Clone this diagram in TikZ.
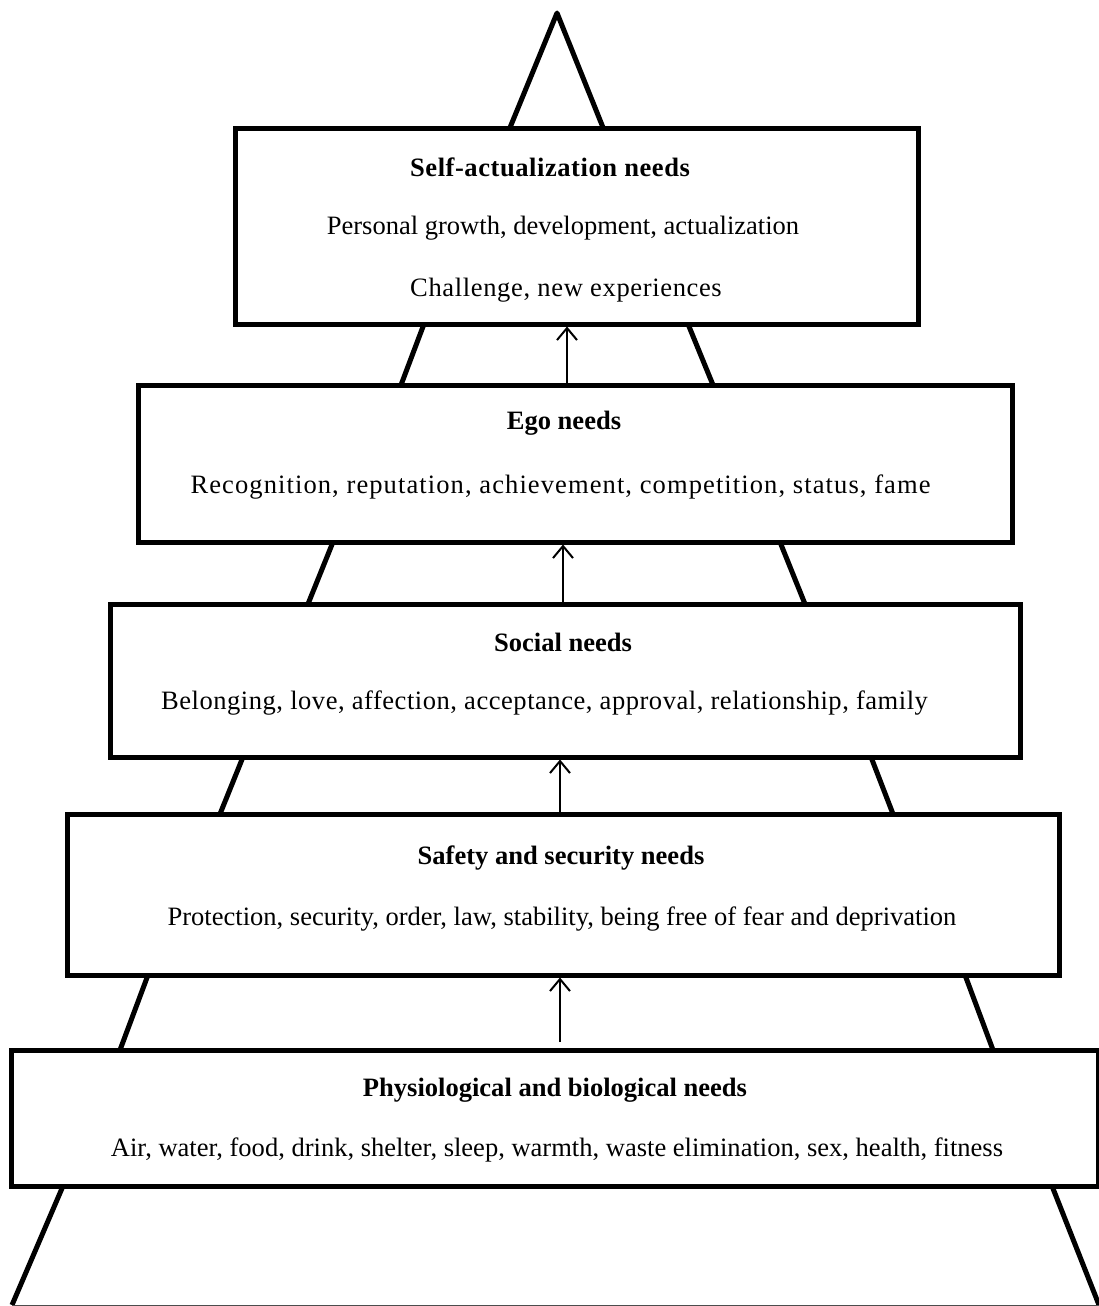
\documentclass[tikz,border=0pt]{standalone}
\usepackage{fontspec}
\setmainfont{Liberation Serif}
\usetikzlibrary{arrows.meta}
\newcommand{\spaced}[2]{{\addfontfeature{LetterSpace=#1}#2}}
\begin{document}
\begin{tikzpicture}[x=0.75pt,y=-0.75pt,
  level/.style={draw=black,line width=3.75pt,fill=white,rectangle,inner sep=0pt},
  edge/.style={line width=3.75pt,line join=round},
  title/.style={font=\fontsize{19.9}{23}\selectfont\bfseries,inner sep=0pt},
  body/.style={font=\fontsize{19.9}{23}\selectfont,inner sep=0pt},
  up/.style={line width=1.5pt,-{Straight Barb[length=9pt,width=15pt,line width=1.5pt]}}]
\useasboundingbox (0,0) rectangle (1099,1306);

% sides of the pyramid, visible between the levels
\draw[edge] (509,130) -- (557,13) -- (604,130);
\draw[edge] (424,324) -- (401,385);
\draw[edge] (688,324) -- (713,385);
\draw[edge] (333,542) -- (308,604);
\draw[edge] (780,542) -- (805,604);
\draw[edge] (243,757) -- (220,814);
\draw[edge] (871,757) -- (893,814);
\draw[edge] (148,975) -- (120,1050);
\draw[edge] (965,975) -- (993,1050);
\draw[edge] (63,1186) -- (12,1305);
\draw[edge] (1052,1186) -- (1099,1305);
\draw[line width=0.75pt,black!70] (12,1305) -- (1099,1305);

% levels
\node[level,minimum width=512.25pt,minimum height=147pt] (self) at (576.5,226) {};
\node[level,minimum width=655.5pt,minimum height=117.75pt] (ego) at (575,463.5) {};
\node[level,minimum width=682.5pt,minimum height=114.75pt] (social) at (565,680.5) {};
\node[level,minimum width=744pt,minimum height=120.75pt] (safety) at (563,894.5) {};
\node[level,minimum width=815.25pt,minimum height=102pt] (phys) at (554.5,1118) {};

% texts
\node[title] (t1) at (550,167) {\spaced{2.1}{Self-actualization needs}};
\node[body]  (b1a) at (563,228) {Personal growth, development, actualization};
\node[body]  (b1b) at (566,290) {\spaced{2.4}{Challenge, new experiences}};
\node[title] (t2) at (564,423) {Ego needs};
\node[body]  (b2) at (560.5,487) {\spaced{4.1}{Recognition, reputation, achievement, competition, status, fame}};
\node[title] (t3) at (563,642) {Social needs};
\node[body]  (b3) at (544.5,703) {\spaced{2.0}{Belonging, love, affection, acceptance, approval, relationship, family}};
\node[title] (t4) at (561,858) {Safety and security needs};
\node[body]  (b4) at (562,919) {Protection, security, order, law, stability, being free of fear and deprivation};
\node[title] (t5) at (555,1090) {Physiological and biological needs};
\node[body]  (b5) at (557,1150) {Air, water, food, drink, shelter, sleep, warmth, waste elimination, sex, health, fitness};

% arrows between levels
\coordinate (x1) at (567,0);
\coordinate (x2) at (563,0);
\coordinate (x3) at (560,0);
\coordinate (x4) at (560,0);
\coordinate (s4) at (560,1042);
\draw[up] (ego.north -| x1) -- (self.south -| x1);
\draw[up] (social.north -| x2) -- (ego.south -| x2);
\draw[up] (safety.north -| x3) -- (social.south -| x3);
\draw[up] (s4) -- (safety.south -| x4);
\end{tikzpicture}
\end{document}
